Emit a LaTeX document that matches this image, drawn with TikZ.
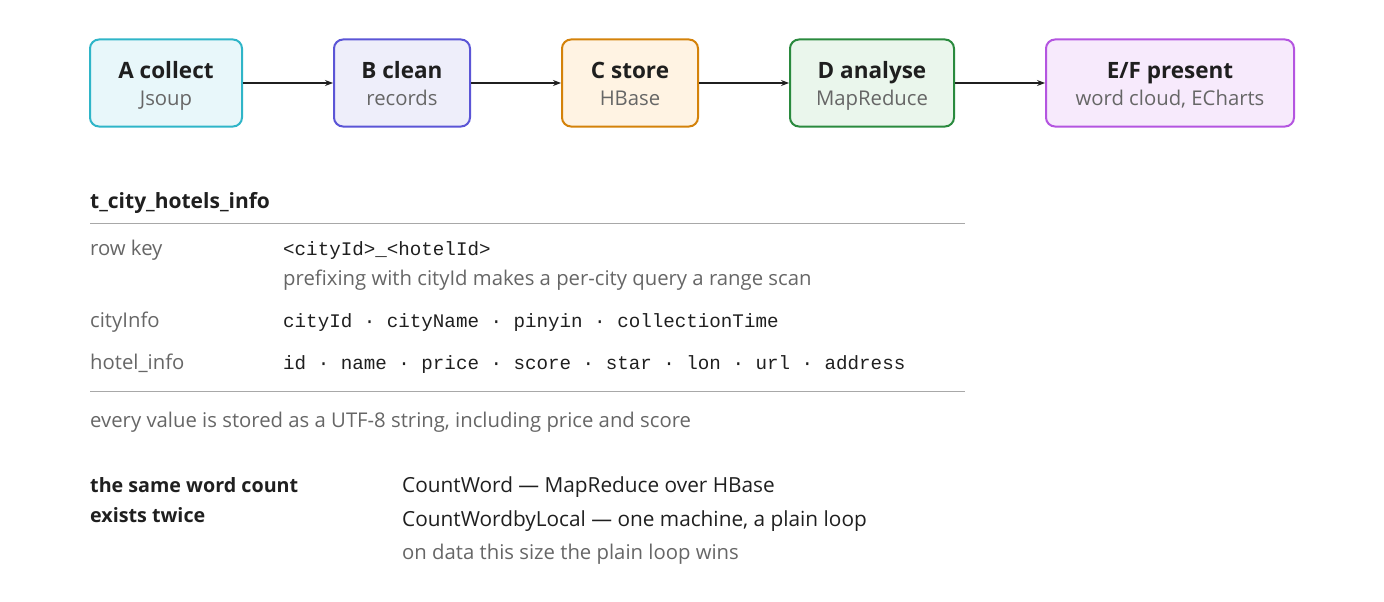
\documentclass[tikz,border=0pt]{standalone}
\usepackage{fontspec}
\setmainfont{Open Sans}
\setmonofont{Liberation Mono}
\usetikzlibrary{arrows.meta}
\definecolor{txt}{HTML}{1F1F1F}
\definecolor{gry}{HTML}{666666}
\definecolor{rule}{HTML}{A8A8A8}
\tikzset{
 arr/.style={-{Stealth[length=8pt,width=6pt]}, line width=1.2pt, draw=txt},
 lab/.style={anchor=base west, inner sep=0pt, font=\fontsize{20.3}{22}\selectfont, text=gry},
 val/.style={anchor=base west, inner sep=0pt, font=\ttfamily\fontsize{19.2}{20}\selectfont, text=txt},
 blk/.style={anchor=base west, inner sep=0pt, font=\fontsize{20.8}{22}\selectfont, text=txt},
 bld/.style={anchor=base west, inner sep=0pt, font=\fontsize{19.7}{22}\selectfont\bfseries, text=txt},
}
\newcommand{\bx}[7]{%
 \definecolor{s#1}{HTML}{#6}\definecolor{f#1}{HTML}{#7}%
 \node[draw=s#1, fill=f#1, line width=2pt, rounded corners=9pt, minimum width=#4pt, minimum height=87pt, inner sep=0pt] (#1) at (#5,83) {};
 \node[anchor=base, inner sep=0pt, font=\fontsize{22.5}{24}\selectfont\bfseries, text=txt] (#1t) at (#5,78) {#2};
 \node[anchor=base, inner sep=0pt, font=\fontsize{20.3}{22}\selectfont, text=gry] (#1s) at (#5,106) {#3};}
\begin{document}
\begin{tikzpicture}[x=1pt,y=-1pt]
\useasboundingbox (0,0) rectangle (1384,602);
\bx{A}{A collect}{Jsoup}{152}{166}{2FB5C8}{E8F7FA}
\bx{B}{B clean}{records}{136}{402}{5B55D6}{EEEEFA}
\bx{C}{C store}{HBase}{136}{630}{D4820A}{FFF3E3}
\bx{D}{D analyse}{MapReduce}{164}{872}{2A8A3E}{EAF6EC}
\bx{E}{E/F present}{word cloud, ECharts}{248}{1170}{B455E0}{F7EAFC}
\draw[arr] (A) -- (B);
\draw[arr] (B) -- (C);
\draw[arr] (C) -- (D);
\draw[arr] (D) -- (E);
\node[bld, font=\fontsize{21}{24}\selectfont\bfseries] (tn) at (90,208) {t\_city\_hotels\_info};
\coordinate (r1a) at (90,223); \coordinate (r1b) at (965,223);
\coordinate (r2a) at (90,391); \coordinate (r2b) at (965,391);
\draw[rule, line width=1pt] (r1a) -- (r1b);
\draw[rule, line width=1pt] (r2a) -- (r2b);
\node[lab] (l1) at (90,255) {row key};
\node[val] (v1) at (283,255) {<cityId>\_<hotelId>};
\node[lab] (v1b) at (283,285) {prefixing with cityId makes a per-city query a range scan};
\node[lab] (l2) at (90,327) {cityInfo};
\node[val] (v2) at (283,327) {cityId · cityName · pinyin · collectionTime};
\node[lab] (l3) at (90,369) {hotel\_info};
\node[val] (v3) at (283,369) {id · name · price · score · star · lon · url · address};
\node[lab] (n1) at (90,427) {every value is stored as a UTF-8 string, including price and score};
\node[bld] (sw1) at (90,492) {the same word count};
\node[bld] (sw2) at (90,522) {exists twice};
\node[blk] (c1) at (402,492) {CountWord — MapReduce over HBase};
\node[blk] (c2) at (402,526) {CountWordbyLocal — one machine, a plain loop};
\node[lab] (c3) at (402,559) {on data this size the plain loop wins};
\end{tikzpicture}
\end{document}
